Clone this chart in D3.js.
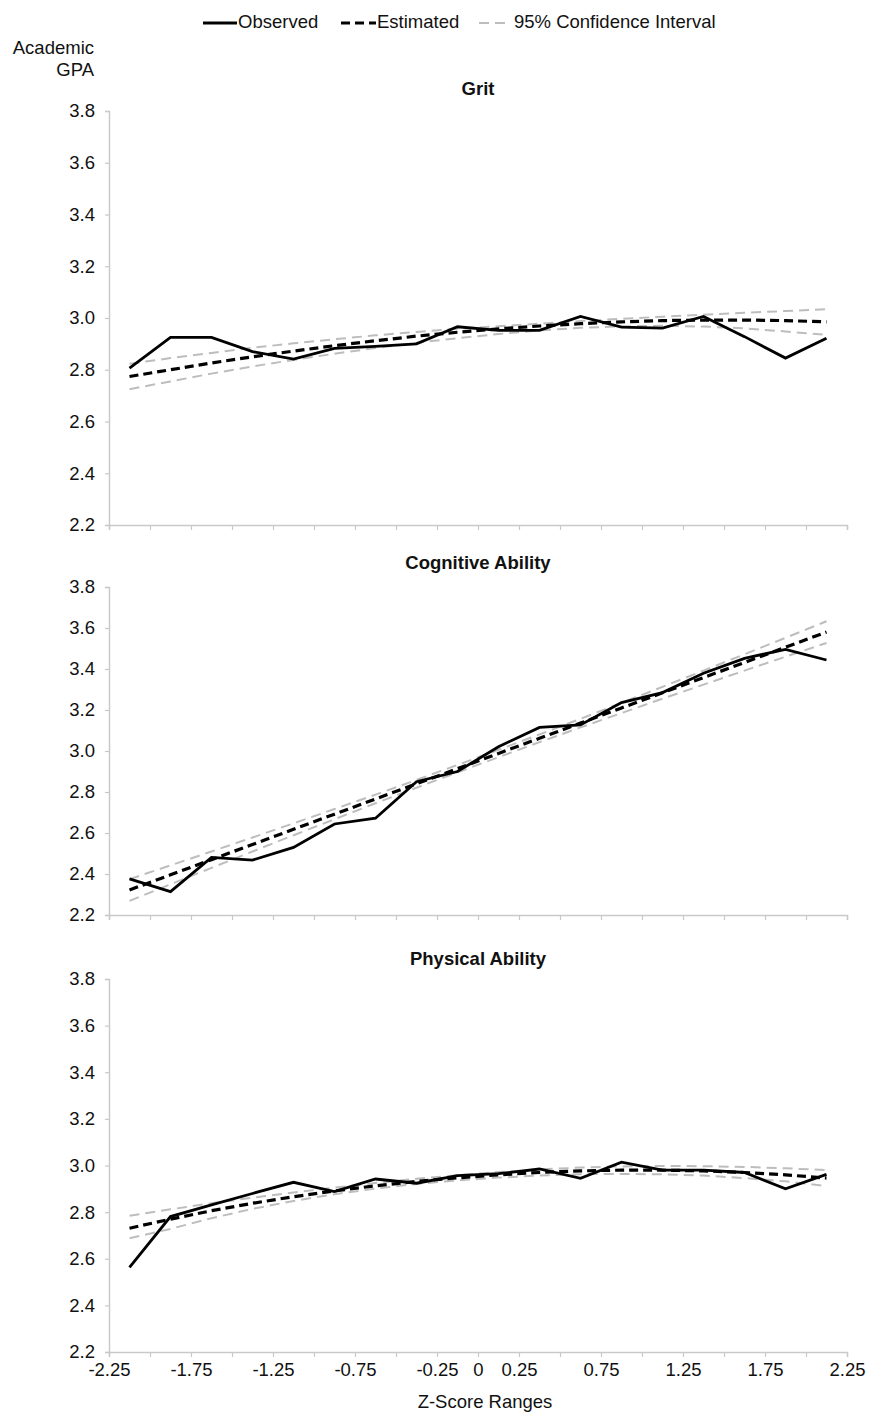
<!DOCTYPE html>
<html>
<head>
<meta charset="utf-8">
<script src="https://cdn.jsdelivr.net/npm/d3@7/dist/d3.min.js"></script>
<style>
  html, body { margin: 0; padding: 0; background: #fff; }
  svg text { font-family: "Liberation Sans", Arial, Helvetica, sans-serif; fill: #111; }
</style>
</head>
<body>
<svg id="chart" width="871" height="1414"></svg>
<script>
// Midpoints of the z-score bins (x positions of every series)
const zMid = [-2.125, -1.875, -1.625, -1.375, -1.125, -0.875, -0.625, -0.375, -0.125,
               0.125, 0.375, 0.625, 0.875, 1.125, 1.375, 1.625, 1.875, 2.125];

// Axis ticks
const xTicks = d3.range(-2.25, 2.2501, 0.25).map(v => +v.toFixed(2));
const xLabels = [-2.25, -1.75, -1.25, -0.75, -0.25, 0, 0.25, 0.75, 1.25, 1.75, 2.25];
const yTicks = [2.2, 2.4, 2.6, 2.8, 3.0, 3.2, 3.4, 3.6, 3.8];

const panelTitles = ["Grit", "Cognitive Ability", "Physical Ability"];

// Grit
const gritObserved  = [2.806, 2.925, 2.925, 2.870, 2.841, 2.883, 2.890, 2.900, 2.966,
                       2.952, 2.952, 3.006, 2.965, 2.961, 3.006, 2.928, 2.845, 2.922];
const gritEstimated = [2.774, 2.800, 2.826, 2.850, 2.872, 2.893, 2.912, 2.930, 2.945,
                       2.958, 2.969, 2.978, 2.985, 2.990, 2.992, 2.992, 2.990, 2.985];
const gritUpper     = [2.823, 2.845, 2.865, 2.885, 2.902, 2.918, 2.933, 2.946, 2.958,
                       2.968, 2.978, 2.988, 2.997, 3.005, 3.013, 3.020, 3.027, 3.034];
const gritLower     = [2.725, 2.755, 2.785, 2.813, 2.838, 2.862, 2.884, 2.904, 2.922,
                       2.938, 2.952, 2.962, 2.968, 2.970, 2.967, 2.960, 2.948, 2.935];

// Cognitive ability
const cogObserved  = [2.376, 2.314, 2.481, 2.468, 2.530, 2.644, 2.672, 2.850, 2.900,
                      3.021, 3.115, 3.127, 3.236, 3.285, 3.379, 3.452, 3.496, 3.444];
const cogEstimated = [2.322, 2.396, 2.470, 2.544, 2.618, 2.692, 2.766, 2.840, 2.914,
                      2.988, 3.062, 3.136, 3.210, 3.284, 3.358, 3.432, 3.506, 3.580];
const cogUpper     = [2.375, 2.442, 2.510, 2.578, 2.647, 2.717, 2.787, 2.859, 2.932,
                      3.006, 3.081, 3.157, 3.235, 3.313, 3.392, 3.472, 3.552, 3.633];
const cogLower     = [2.269, 2.350, 2.430, 2.510, 2.589, 2.667, 2.745, 2.821, 2.896,
                      2.970, 3.043, 3.115, 3.185, 3.255, 3.324, 3.392, 3.460, 3.527];

// Physical ability
const physObserved  = [2.563, 2.781, 2.831, 2.880, 2.928, 2.888, 2.942, 2.924, 2.957,
                       2.965, 2.985, 2.945, 3.014, 2.980, 2.980, 2.970, 2.900, 2.962];
const physEstimated = [2.731, 2.770, 2.806, 2.838, 2.866, 2.891, 2.913, 2.932, 2.947,
                       2.960, 2.970, 2.977, 2.980, 2.980, 2.977, 2.970, 2.960, 2.946];
const physUpper     = [2.784, 2.812, 2.838, 2.862, 2.884, 2.905, 2.925, 2.943, 2.958,
                       2.972, 2.983, 2.991, 2.996, 2.998, 2.997, 2.994, 2.988, 2.980];
const physLower     = [2.688, 2.728, 2.774, 2.814, 2.848, 2.877, 2.901, 2.921, 2.936,
                       2.948, 2.957, 2.963, 2.964, 2.962, 2.957, 2.946, 2.932, 2.912];

const panels = [
  { title: panelTitles[0], obs: gritObserved, est: gritEstimated, hi: gritUpper, lo: gritLower, top: 111, bottom: 525, titleY: 90 },
  { title: panelTitles[1], obs: cogObserved,  est: cogEstimated,  hi: cogUpper,  lo: cogLower,  top: 587, bottom: 915, titleY: 564 },
  { title: panelTitles[2], obs: physObserved, est: physEstimated, hi: physUpper, lo: physLower, top: 979, bottom: 1352, titleY: 960 }
];

const svg = d3.select("#chart");
const left = 109, right = 847;
const fontSize = "18.5px";
const axisColor = "#c9c9c9";
const ciColor = "#bdbdbd";

const x = d3.scaleLinear().domain([-2.25, 2.25]).range([left, right]);

const labelFmt = v => {
  if (!xLabels.some(l => Math.abs(l - v) < 1e-9)) return "";
  return v === 0 ? "0" : d3.format(".2f")(v).replace("−", "-");
};

panels.forEach((p, i) => {
  const y = d3.scaleLinear().domain([2.2, 3.8]).range([p.bottom, p.top]);
  const g = svg.append("g");

  // y axis
  const ya = g.append("g")
    .attr("transform", `translate(${left},0)`)
    .call(d3.axisLeft(y).tickValues(yTicks).tickFormat(d3.format(".1f")).tickSize(4).tickPadding(10));
  // x axis
  const xa = g.append("g")
    .attr("transform", `translate(0,${p.bottom})`)
    .call(d3.axisBottom(x).tickValues(xTicks).tickFormat(i === 2 ? labelFmt : () => "").tickSize(5).tickSizeOuter(5).tickPadding(6));

  [ya, xa].forEach(a => {
    a.select(".domain").attr("stroke", axisColor).attr("stroke-width", 1.5);
    a.selectAll(".tick line").attr("stroke", axisColor).attr("stroke-width", 1.2);
    a.selectAll(".tick text").style("font-size", fontSize).attr("fill", "#111");
  });

  g.append("text")
    .attr("x", (left + right) / 2).attr("y", p.titleY)
    .attr("text-anchor", "middle").attr("dominant-baseline", "middle")
    .style("font-size", fontSize).style("font-weight", "bold")
    .text(p.title);

  const line = arr => d3.line().x((d, k) => x(zMid[k])).y(d => y(d))(arr);

  // confidence bounds
  [p.hi, p.lo].forEach(arr => {
    g.append("path").attr("d", line(arr))
      .attr("fill", "none").attr("stroke", ciColor).attr("stroke-width", 2)
      .attr("stroke-dasharray", "10,6");
  });
  // observed
  g.append("path").attr("d", line(p.obs))
    .attr("fill", "none").attr("stroke", "#000").attr("stroke-width", 2.8)
    .attr("stroke-linejoin", "miter");
  // estimated
  g.append("path").attr("d", line(p.est))
    .attr("fill", "none").attr("stroke", "#000").attr("stroke-width", 3.2)
    .attr("stroke-dasharray", "9,5");
});

// x axis title
svg.append("text")
  .attr("x", 485).attr("y", 1403)
  .attr("text-anchor", "middle").attr("dominant-baseline", "middle")
  .style("font-size", fontSize)
  .text("Z-Score Ranges");

// y axis title
const yTitle = svg.append("text")
  .attr("text-anchor", "end")
  .style("font-size", fontSize);
yTitle.append("tspan").attr("x", 94).attr("y", 54).text("Academic");
yTitle.append("tspan").attr("x", 94).attr("y", 76).text("GPA");

// legend
const legY = 23;
const leg = svg.append("g");
leg.append("line").attr("x1", 203).attr("x2", 237).attr("y1", legY).attr("y2", legY)
  .attr("stroke", "#000").attr("stroke-width", 2.8);
leg.append("text").attr("x", 238).attr("y", legY).attr("dominant-baseline", "middle")
  .style("font-size", fontSize).text("Observed");
leg.append("line").attr("x1", 341).attr("x2", 376).attr("y1", legY).attr("y2", legY)
  .attr("stroke", "#000").attr("stroke-width", 3.2).attr("stroke-dasharray", "9,5");
leg.append("text").attr("x", 377).attr("y", legY).attr("dominant-baseline", "middle")
  .style("font-size", fontSize).text("Estimated");
leg.append("line").attr("x1", 479).attr("x2", 507).attr("y1", legY).attr("y2", legY)
  .attr("stroke", ciColor).attr("stroke-width", 2).attr("stroke-dasharray", "10,6");
leg.append("text").attr("x", 514).attr("y", legY).attr("dominant-baseline", "middle")
  .style("font-size", fontSize).text("95% Confidence Interval");
</script>
</body>
</html>
